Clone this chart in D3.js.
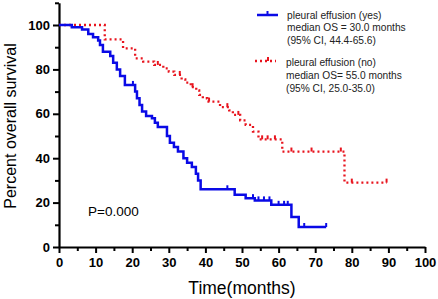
<!DOCTYPE html>
<html>
<head>
<meta charset="utf-8">
<script src="https://cdn.jsdelivr.net/npm/d3@7"></script>
<style>
  body { margin: 0; background: #fff; }
  text { font-family: "Liberation Sans", Arial, sans-serif; }
</style>
</head>
<body>
<div id="container"></div>
<script>
let w = 438;
let h = 299;

// step curves: time (months) where each level starts, and the level (%)
let yesTime = [0, 3.5, 6.3, 8, 9.3, 10.7, 11.2, 12, 14, 14.8, 15.8, 16.7, 18, 20.8, 21.3, 22, 22.7, 23.8, 25.4, 26.2, 27, 29.5, 30.3, 31.4, 32.5, 34, 35, 36.3, 37.4, 38, 38.7, 48, 51, 53.5, 58, 63.5, 65.5, 73];
let yesSurv = [100, 99, 98, 96, 94.5, 93, 91, 88, 86, 83, 80, 77, 73, 70, 67, 64, 61, 59, 58, 56, 54, 50, 47, 45, 43, 40, 38, 36, 33, 30, 26, 23.5, 22, 21, 19, 13.5, 9, 9];
let yesCensor = [20.2, 46, 53, 54.5, 56, 57.5, 60, 61.5, 62.5, 67, 73];

let noTime = [0, 12.5, 17.5, 20.8, 23, 26, 28.5, 30, 31.5, 33.5, 34.5, 36, 37.5, 38.3, 39.3, 40.5, 44, 46.5, 47.5, 49.5, 51, 53, 54.5, 61, 78, 89.6];
let noSurv = [100, 93.5, 89.5, 85, 83.5, 82, 80.5, 79, 77.5, 75.5, 74, 72, 70.5, 68.5, 67, 65.5, 63, 61.5, 59.5, 57, 55, 52, 48.5, 43, 29, 29];
let noCensor = [27, 33, 36.5, 41, 46, 49, 55.5, 57, 59, 63.5, 69, 77, 80, 89.5];

let xTicks = [0, 10, 20, 30, 40, 50, 60, 70, 80, 90, 100];
let xMinor = [5, 15, 25, 35, 45, 55, 65, 75, 85, 95];
let yTicks = [0, 20, 40, 60, 80, 100];
let yMinor = [10, 30, 50, 70, 90, 110];

let yesLegend = ["pleural effusion (yes)", "median OS = 30.0 months", "(95% CI, 44.4-65.6)"];
let noLegend = ["pleural effusion (no)", "median OS= 55.0 months", "(95% CI, 25.0-35.0)"];

let blue = "#0a0ae6";
let red = "#e8141e";

let viz = d3.select("#container")
  .append("svg")
    .attr("width", w)
    .attr("height", h)
    .style("background-color", "white");

let xScale = d3.scaleLinear().domain([0, 100]).range([59, 425]);
let yScale = d3.scaleLinear().domain([0, 110]).range([247, 2.8]);

// minor ticks first, then main axes
let xMinorAxis = d3.axisBottom(xScale).tickValues(xMinor).tickSize(4).tickFormat("");
viz.append("g").attr("transform", "translate(0," + yScale(0) + ")").call(xMinorAxis)
  .call(g => g.select(".domain").remove());
let yMinorAxis = d3.axisLeft(yScale).tickValues(yMinor).tickSize(4).tickFormat("");
viz.append("g").attr("transform", "translate(" + xScale(0) + ",0)").call(yMinorAxis)
  .call(g => g.select(".domain").remove());

let xAxis = d3.axisBottom(xScale).tickValues(xTicks).tickSize(6).tickSizeOuter(0).tickPadding(5);
let xAxisGroup = viz.append("g").attr("class", "xaxis")
  .attr("transform", "translate(0," + yScale(0) + ")")
  .call(xAxis);
let yAxis = d3.axisLeft(yScale).tickValues(yTicks).tickSize(6).tickSizeOuter(0).tickPadding(3);
let yAxisGroup = viz.append("g").attr("class", "yaxis")
  .attr("transform", "translate(" + xScale(0) + ",0)")
  .call(yAxis);

viz.selectAll(".tick line").attr("stroke", "#000").attr("stroke-width", 2);
viz.selectAll(".domain").attr("stroke", "#000").attr("stroke-width", 2.2);
viz.selectAll(".xaxis text, .yaxis text")
  .style("font-family", "'Liberation Sans', Arial, sans-serif")
  .style("font-size", "13px")
  .style("font-weight", "bold")
  .attr("fill", "#000");

// survival curves
let line = d3.line()
  .x(d => xScale(d[0]))
  .y(d => yScale(d[1]))
  .curve(d3.curveStepAfter);

function levelAt(times, surv, t) {
  let i = d3.bisectRight(times, t) - 1;
  return surv[Math.max(0, i)];
}

let curves = [
  { time: yesTime, surv: yesSurv, censor: yesCensor, color: blue, width: 2.5, dash: null },
  { time: noTime, surv: noSurv, censor: noCensor, color: red, width: 2.3, dash: "2,3" }
];

// draw red first so blue sits on top where they overlap
curves.slice().reverse().forEach(function(c) {
  let pts = c.time.map((t, i) => [t, c.surv[i]]);
  viz.append("path")
    .datum(pts)
    .attr("d", line)
    .attr("fill", "none")
    .attr("stroke", c.color)
    .attr("stroke-width", c.width)
    .attr("stroke-dasharray", c.dash);
  viz.selectAll(null)
    .data(c.censor)
    .enter()
    .append("line")
      .attr("x1", d => xScale(d))
      .attr("x2", d => xScale(d))
      .attr("y1", d => yScale(levelAt(c.time, c.surv, d)))
      .attr("y2", d => yScale(levelAt(c.time, c.surv, d)) - 4)
      .attr("stroke", c.color)
      .attr("stroke-width", 2);
});

// legend
let legend = viz.append("g").attr("class", "legend");
legend.append("line").attr("x1", 257).attr("x2", 278).attr("y1", 15).attr("y2", 15)
  .attr("stroke", blue).attr("stroke-width", 2.5);
legend.append("line").attr("x1", 267.5).attr("x2", 267.5).attr("y1", 15).attr("y2", 11)
  .attr("stroke", blue).attr("stroke-width", 2);
legend.append("line").attr("x1", 255).attr("x2", 276).attr("y1", 61).attr("y2", 61)
  .attr("stroke", red).attr("stroke-width", 2.3).attr("stroke-dasharray", "2,3");
legend.append("line").attr("x1", 268).attr("x2", 268).attr("y1", 61).attr("y2", 57)
  .attr("stroke", red).attr("stroke-width", 2);

legend.selectAll(".yes").data(yesLegend).enter().append("text")
  .attr("x", 287).attr("y", (d, i) => 18.5 + i * 12.8)
  .style("font-size", "10.2px").attr("fill", "#222").text(d => d);
legend.selectAll(".no").data(noLegend).enter().append("text")
  .attr("x", 286).attr("y", (d, i) => 65.5 + i * 13.2)
  .style("font-size", "10.2px").attr("fill", "#222").text(d => d);

// p value
viz.append("text").attr("x", 88).attr("y", 216)
  .style("font-size", "13.5px").attr("fill", "#000").text("P=0.000");

// axis titles
viz.append("text")
  .attr("transform", "translate(16," + ((yScale(0) + yScale(100)) / 2 - 10) + ") rotate(-90)")
  .attr("text-anchor", "middle")
  .style("font-size", "16px").attr("fill", "#000")
  .text("Percent overall survival");
viz.append("text")
  .attr("x", (xScale(0) + xScale(100)) / 2).attr("y", 294)
  .attr("text-anchor", "middle")
  .style("font-size", "17.5px").attr("fill", "#000")
  .text("Time(months)");
</script>
</body>
</html>
